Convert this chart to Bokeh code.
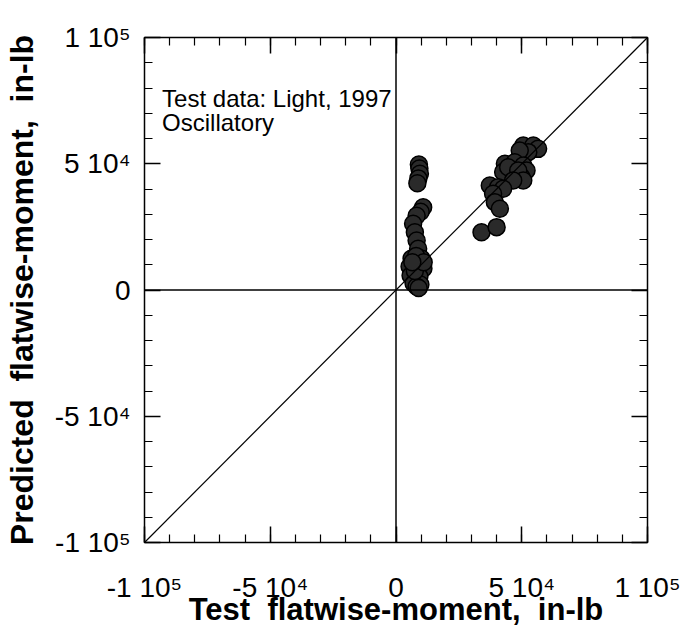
from bokeh.plotting import figure
from bokeh.models import Range1d, FixedTicker, LinearAxis, Span, Slope, Label, CustomJSTickFormatter
from bokeh.embed import file_html
from bokeh.resources import INLINE

# Test (measured) vs predicted flatwise moment, in-lb
test_moment = [
    9100, 9300, 9500, 8900, 8500,
    10800, 9800, 8200, 6800, 7500, 8200, 8800,
    6200, 10100, 8000, 5400, 8500, 10900, 5800, 9300, 7000, 9700, 8200, 7500, 11000, 6500, 9000,
    50600, 54600, 56500, 52600, 49200,
    43300, 47200, 50600, 51900, 49900, 45900, 42600, 44600, 48600, 50600, 46600,
    37300, 40600, 42600, 38600, 39300, 41300,
    34000, 40000,
]
predicted_moment = [
    49700, 48100, 46000, 44200, 42300,
    32800, 31000, 29400, 26200, 22900, 19600, 16300,
    12500, 12500, 13500, 9300, 9300, 8500, 5700, 5300, 2600, 2200, 1400, 7500, 11000, 11000, 800,
    57200, 57200, 55900, 54600, 55200,
    50000, 50600, 49300, 47300, 44700, 46000, 46700, 48600, 47300, 43400, 43400,
    41400, 40700, 40100, 38100, 34800, 32200,
    22900, 24900,
]

major_ticks = [-100000, -50000, 0, 50000, 100000]
tick_labels = ["-1 10\u2075", "-5 10\u2074", "0", "5 10\u2074", "1 10\u2075"]
minor_ticks = [-100000, -90000, -80000, -70000, -60000, -50000, -40000, -30000, -20000, -10000,
               0, 10000, 20000, 30000, 40000, 50000, 60000, 70000, 80000, 90000, 100000]

x_title = "Test\u00a0\u00a0flatwise-moment,\u00a0\u00a0in-lb"
y_title = "Predicted\u00a0\u00a0flatwise-moment,\u00a0\u00a0in-lb"
note_lines = ["Test data: Light, 1997", "Oscillatory"]

FONT = "Liberation Sans"

p = figure(frame_width=503, frame_height=505,
           x_range=Range1d(-100000, 100000), y_range=Range1d(-100000, 100000),
           output_backend="svg", toolbar_location=None,
           min_border_left=143, min_border_right=42, min_border_top=37, min_border_bottom=87,
           background_fill_color="white", border_fill_color="white")
p.xgrid.visible = False
p.ygrid.visible = False
p.outline_line_color = "black"
p.outline_line_width = 1.5

ticker = FixedTicker(ticks=major_ticks, minor_ticks=minor_ticks)
overrides = dict(zip(major_ticks, tick_labels))

def style_axis(ax, labelled):
    ax.ticker = ticker
    ax.axis_line_color = None
    ax.major_tick_in = 16
    ax.major_tick_out = 0
    ax.minor_tick_in = 8
    ax.minor_tick_out = 0
    ax.major_tick_line_color = "black"
    ax.minor_tick_line_color = "black"
    ax.major_tick_line_width = 1.5
    ax.minor_tick_line_width = 1.2
    if labelled:
        ax.major_label_overrides = overrides
        ax.major_label_text_font = FONT
        ax.major_label_text_font_size = "28px"
        ax.major_label_text_color = "black"
        ax.axis_label_text_font = FONT
        ax.axis_label_text_font_style = "bold"
        ax.axis_label_text_color = "black"
    else:
        ax.formatter = CustomJSTickFormatter(code="return ''")
        ax.major_label_text_font_size = "1px"

xa = p.xaxis[0]
ya = p.yaxis[0]
style_axis(xa, True)
style_axis(ya, True)
xa.axis_label = x_title
ya.axis_label = y_title
xa.axis_label_text_font_size = "31px"
ya.axis_label_text_font_size = "32px"
xa.major_label_standoff = 29
xa.axis_label_standoff = -14
ya.major_label_standoff = 14
ya.axis_label_standoff = 12

top_ax = LinearAxis()
right_ax = LinearAxis()
style_axis(top_ax, False)
style_axis(right_ax, False)
p.add_layout(top_ax, "above")
p.add_layout(right_ax, "right")

p.add_layout(Span(location=0, dimension="width", line_color="black", line_width=1.5))
p.add_layout(Span(location=0, dimension="height", line_color="black", line_width=1.5))
p.add_layout(Slope(gradient=1, y_intercept=0, line_color="black", line_width=1.2))

p.scatter(test_moment, predicted_moment, size=17, marker="circle",
          fill_color="#2a2a2a", line_color="black", line_width=1.5)

p.add_layout(Label(x=-93000, y=76000, text=note_lines[0], text_font=FONT,
                   text_font_size="24px", text_color="black", text_baseline="alphabetic"))
p.add_layout(Label(x=-93000, y=66500, text=note_lines[1], text_font=FONT,
                   text_font_size="24px", text_color="black", text_baseline="alphabetic"))

open("out.html", "w").write(file_html(p, INLINE))
